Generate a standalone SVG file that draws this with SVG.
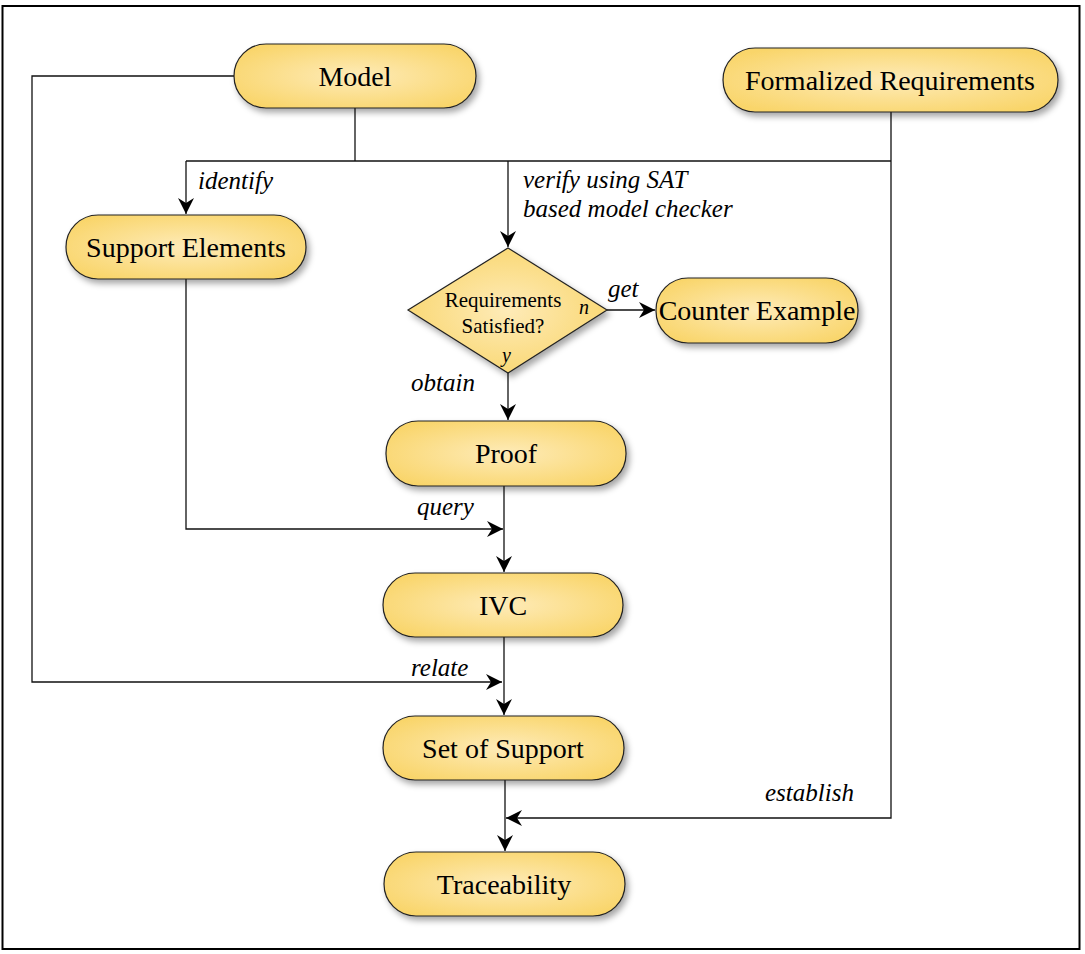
<svg xmlns="http://www.w3.org/2000/svg" width="1085" height="954" viewBox="0 0 1085 954">
<style>
text{font-family:'Liberation Serif','DejaVu Serif',serif}
.node{fill:url(#g);stroke:#222;stroke-width:1.2;filter:url(#sh)}
.t{font-size:28px;fill:#000;text-anchor:middle}
.d{font-size:21px;fill:#000;text-anchor:middle}
.l{font-size:25px;font-style:italic;fill:#000}
.c{fill:none;stroke:#111;stroke-width:1.3}
</style>
<defs>
<radialGradient id="g" cx="50%" cy="50%" r="60%">
<stop offset="0" stop-color="#FEEBB8"/>
<stop offset="1" stop-color="#F9D56A"/>
</radialGradient>
<filter id="sh" x="-10%" y="-20%" width="125%" height="160%">
<feDropShadow dx="3" dy="4" stdDeviation="3" flood-color="#000" flood-opacity="0.35"/>
</filter>
<marker id="a" viewBox="0 0 16 16" refX="16" refY="8" markerWidth="16" markerHeight="16" markerUnits="userSpaceOnUse" orient="auto">
<path d="M0,0 L16,8 L0,16 L5,8 z" fill="#000"/>
</marker>
</defs>
<rect x="2.5" y="6" width="1077" height="943" fill="#fff" stroke="#000" stroke-width="2"/>
<g id="connectors">
<path class="c" d="M234,76 H32 V682 H502" marker-end="url(#a)"/>
<path class="c" d="M355,108 V161"/>
<path class="c" d="M186,161 H891"/>
<path class="c" d="M891,112 V818 H506" marker-end="url(#a)"/>
<path class="c" d="M186,161 V214" marker-end="url(#a)"/>
<path class="c" d="M508,161 V247" marker-end="url(#a)"/>
<path class="c" d="M607,310 H655" marker-end="url(#a)"/>
<path class="c" d="M508,373 V420" marker-end="url(#a)"/>
<path class="c" d="M186,279 V529 H503" marker-end="url(#a)"/>
<path class="c" d="M504,486 V572" marker-end="url(#a)"/>
<path class="c" d="M504,637 V715" marker-end="url(#a)"/>
<path class="c" d="M505,780 V851" marker-end="url(#a)"/>
<text class="l" x="198" y="189" font-family="Liberation Serif">identify</text>
<text class="l" x="523" y="188" font-family="Liberation Serif">verify using SAT</text>
<text class="l" x="523" y="217" font-family="Liberation Serif">based model checker</text>
<text class="l" x="608" y="297" font-family="Liberation Serif">get</text>
<text class="l" x="411" y="391" font-family="Liberation Serif">obtain</text>
<text class="l" x="417" y="515" font-family="Liberation Serif">query</text>
<text class="l" x="411" y="676" font-family="Liberation Serif">relate</text>
<text class="l" x="765" y="801" font-family="Liberation Serif">establish</text>
</g>
<g id="model"><rect class="node" x="234" y="44" width="242" height="64" rx="32"/><text class="t" x="355" y="86">Model</text></g>
<g id="formalized-requirements"><rect class="node" x="723" y="48" width="335" height="64" rx="32"/><text class="t" x="890" y="90">Formalized Requirements</text></g>
<g id="support-elements"><rect class="node" x="66" y="215" width="240" height="64" rx="32"/><text class="t" x="186" y="257">Support Elements</text></g>
<g id="decision"><polygon class="node" points="508,248 607,310 508,373 408,310"/><text class="d" x="503" y="307">Requirements</text><text class="d" x="503" y="333">Satisfied?</text><text class="l" x="579" y="314" style="font-size:20px">n</text><text class="l" x="502" y="362" style="font-size:20px">y</text></g>
<g id="counter-example"><rect class="node" x="656" y="278" width="202" height="65" rx="32"/><text class="t" x="757" y="320">Counter Example</text></g>
<g id="proof"><rect class="node" x="386" y="421" width="240" height="65" rx="32"/><text class="t" x="506" y="463">Proof</text></g>
<g id="ivc"><rect class="node" x="383" y="573" width="240" height="64" rx="32"/><text class="t" x="503" y="615">IVC</text></g>
<g id="set-of-support"><rect class="node" x="383" y="716" width="241" height="64" rx="32"/><text class="t" x="503" y="758">Set of Support</text></g>
<g id="traceability"><rect class="node" x="384" y="852" width="241" height="64" rx="32"/><text class="t" x="504" y="894">Traceability</text></g>
</svg>
